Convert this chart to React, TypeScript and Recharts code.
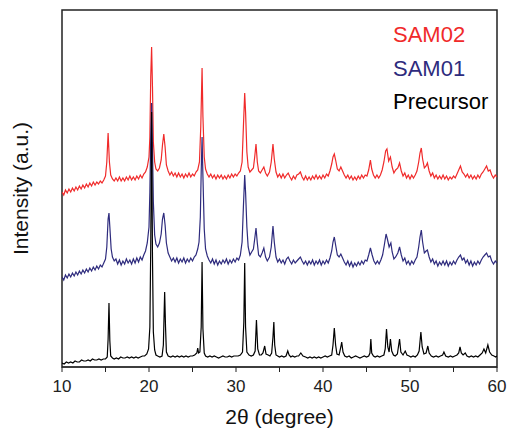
import React from "react";
import { LineChart, Line, XAxis, YAxis, ReferenceArea } from "recharts";

// 2θ (deg), intensity (a.u., offset stacked)
const precursor: [number, number][] = [
  [10.0, 4], [10.25, 3], [10.5, 5], [10.75, 4], [11.0, 5], [11.25, 4], [11.5, 6], [11.75, 5], [12.0, 5], [12.25, 7],
  [12.5, 6], [12.75, 6], [13.0, 7], [13.25, 6], [13.5, 8], [13.75, 7], [14.0, 7], [14.25, 8], [14.5, 7], [14.75, 8],
  [15.0, 8], [15.2, 10], [15.3, 28], [15.4, 64], [15.5, 26], [15.6, 11], [15.8, 9], [16.0, 8], [16.25, 9], [16.5, 8],
  [16.75, 10], [17.0, 9], [17.25, 9], [17.5, 10], [17.75, 9], [18.0, 10], [18.25, 9], [18.5, 10], [18.75, 9], [19.0, 10],
  [19.25, 11], [19.5, 11], [19.75, 13], [19.95, 18], [20.1, 40], [20.2, 120], [20.3, 255], [20.4, 110], [20.5, 35], [20.65, 17],
  [20.8, 12], [21.0, 11], [21.25, 10], [21.5, 11], [21.65, 22], [21.75, 58], [21.8, 75], [21.9, 40], [22.0, 15], [22.2, 11],
  [22.5, 10], [22.75, 11], [23.0, 10], [23.25, 11], [23.5, 10], [23.75, 11], [24.0, 10], [24.25, 11], [24.5, 10], [24.75, 11],
  [25.0, 11], [25.25, 12], [25.5, 14], [25.6, 19], [25.7, 14], [25.85, 15], [26.0, 40], [26.1, 105], [26.2, 38], [26.35, 14],
  [26.5, 11], [26.75, 10], [27.0, 11], [27.25, 10], [27.5, 11], [27.75, 10], [28.0, 9], [28.25, 10], [28.5, 11], [28.75, 10],
  [29.0, 10], [29.25, 11], [29.5, 10], [29.75, 11], [30.0, 11], [30.25, 11], [30.5, 12], [30.75, 15], [30.9, 45], [31.0, 104],
  [31.1, 40], [31.25, 15], [31.5, 12], [31.75, 11], [32.0, 12], [32.2, 16], [32.35, 47], [32.5, 18], [32.7, 12], [32.9, 12],
  [33.1, 14], [33.3, 21], [33.45, 13], [33.7, 12], [33.9, 11], [34.1, 14], [34.25, 30], [34.35, 45], [34.45, 22], [34.6, 12],
  [34.8, 11], [35.0, 10], [35.25, 11], [35.5, 10], [35.75, 11], [35.95, 16], [36.1, 12], [36.3, 10], [36.5, 11], [36.75, 10],
  [37.0, 11], [37.2, 11], [37.45, 14], [37.7, 11], [38.0, 10], [38.25, 9], [38.5, 10], [38.75, 9], [39.0, 10], [39.25, 9],
  [39.5, 10], [39.75, 9], [40.0, 10], [40.25, 11], [40.5, 10], [40.75, 11], [41.0, 12], [41.15, 22], [41.3, 39], [41.45, 22],
  [41.6, 13], [41.85, 12], [42.05, 20], [42.15, 25], [42.3, 15], [42.5, 11], [42.75, 10], [43.0, 11], [43.25, 9], [43.5, 10],
  [43.75, 11], [44.0, 10], [44.25, 9], [44.5, 10], [44.75, 11], [45.0, 10], [45.25, 11], [45.4, 14], [45.5, 28], [45.6, 14],
  [45.8, 11], [46.0, 10], [46.25, 11], [46.5, 10], [46.75, 11], [47.0, 12], [47.15, 18], [47.3, 38], [47.45, 20], [47.6, 15],
  [47.75, 28], [47.9, 16], [48.1, 12], [48.3, 11], [48.55, 13], [48.8, 28], [48.95, 15], [49.2, 12], [49.45, 16], [49.65, 12],
  [49.9, 11], [50.1, 10], [50.35, 11], [50.6, 10], [50.85, 12], [51.05, 16], [51.25, 35], [51.4, 20], [51.6, 13], [51.85, 14],
  [52.05, 21], [52.2, 14], [52.45, 11], [52.7, 10], [53.0, 11], [53.25, 10], [53.5, 11], [53.75, 12], [53.9, 15], [54.1, 11],
  [54.4, 10], [54.65, 11], [54.9, 10], [55.15, 11], [55.4, 12], [55.6, 14], [55.75, 20], [55.9, 14], [56.1, 12], [56.35, 14],
  [56.55, 11], [56.8, 10], [57.05, 11], [57.3, 10], [57.55, 11], [57.8, 10], [58.05, 12], [58.3, 14], [58.5, 18], [58.7, 14],
  [58.95, 22], [59.15, 15], [59.4, 12], [59.65, 11], [59.85, 10], [60.0, 11],
];

const sam01: [number, number][] = [
  [10.0, 90], [10.2, 87], [10.4, 92], [10.6, 89], [10.8, 93], [11.0, 90], [11.2, 94], [11.4, 91], [11.6, 95], [11.8, 92],
  [12.0, 96], [12.2, 93], [12.4, 97], [12.6, 94], [12.8, 98], [13.0, 95], [13.2, 99], [13.4, 96], [13.6, 100], [13.8, 97],
  [14.0, 101], [14.2, 98], [14.4, 102], [14.6, 100], [14.8, 104], [15.0, 108], [15.15, 120], [15.3, 148], [15.4, 154], [15.5, 140],
  [15.65, 118], [15.8, 110], [16.0, 106], [16.2, 108], [16.4, 103], [16.6, 107], [16.8, 102], [17.0, 106], [17.2, 103], [17.4, 108],
  [17.6, 104], [17.8, 107], [18.0, 103], [18.2, 108], [18.4, 104], [18.6, 109], [18.8, 105], [19.0, 110], [19.2, 107], [19.4, 112],
  [19.6, 116], [19.8, 124], [20.0, 140], [20.1, 175], [20.2, 230], [20.3, 264], [20.4, 220], [20.5, 165], [20.65, 132], [20.8, 123],
  [21.0, 120], [21.2, 124], [21.4, 133], [21.55, 148], [21.7, 154], [21.85, 142], [22.0, 124], [22.2, 114], [22.4, 110], [22.6, 106],
  [22.8, 109], [23.0, 105], [23.2, 109], [23.4, 104], [23.6, 108], [23.8, 105], [24.0, 109], [24.2, 104], [24.4, 108], [24.6, 105],
  [24.8, 109], [25.0, 106], [25.2, 110], [25.4, 112], [25.6, 118], [25.75, 125], [25.9, 150], [26.0, 195], [26.1, 230], [26.2, 190],
  [26.35, 138], [26.5, 118], [26.7, 111], [26.9, 107], [27.1, 104], [27.3, 108], [27.5, 103], [27.7, 107], [27.9, 102], [28.1, 106],
  [28.3, 103], [28.5, 107], [28.7, 104], [28.9, 108], [29.1, 103], [29.3, 107], [29.5, 104], [29.7, 108], [29.9, 105], [30.1, 109],
  [30.3, 107], [30.5, 112], [30.7, 125], [30.85, 160], [31.0, 192], [31.1, 175], [31.25, 140], [31.4, 120], [31.6, 112], [31.8, 115],
  [32.0, 118], [32.15, 128], [32.3, 139], [32.45, 124], [32.6, 112], [32.8, 110], [33.0, 114], [33.2, 119], [33.4, 110], [33.6, 106],
  [33.85, 110], [34.05, 120], [34.25, 141], [34.4, 125], [34.6, 110], [34.8, 105], [35.0, 108], [35.2, 104], [35.4, 107], [35.6, 103],
  [35.8, 108], [36.0, 110], [36.2, 106], [36.4, 103], [36.6, 107], [36.8, 104], [37.0, 106], [37.2, 108], [37.4, 110], [37.6, 106],
  [37.8, 103], [38.0, 106], [38.2, 102], [38.4, 106], [38.6, 103], [38.8, 107], [39.0, 102], [39.2, 106], [39.4, 103], [39.6, 107],
  [39.8, 102], [40.0, 106], [40.2, 103], [40.4, 107], [40.6, 104], [40.8, 109], [41.0, 116], [41.15, 125], [41.3, 130], [41.45, 122],
  [41.65, 112], [41.85, 110], [42.05, 113], [42.25, 109], [42.45, 105], [42.65, 102], [42.85, 106], [43.05, 101], [43.25, 105], [43.45, 100],
  [43.65, 104], [43.85, 101], [44.05, 105], [44.25, 102], [44.45, 106], [44.65, 103], [44.85, 107], [45.05, 106], [45.25, 112], [45.45, 119],
  [45.65, 112], [45.85, 106], [46.05, 103], [46.25, 106], [46.45, 103], [46.65, 107], [46.85, 112], [47.05, 122], [47.25, 133], [47.4, 128],
  [47.6, 120], [47.8, 124], [47.95, 115], [48.15, 108], [48.35, 110], [48.6, 114], [48.8, 120], [49.0, 112], [49.2, 106], [49.4, 109],
  [49.6, 103], [49.8, 106], [50.0, 102], [50.2, 106], [50.4, 103], [50.6, 107], [50.8, 110], [51.0, 120], [51.15, 130], [51.3, 137],
  [51.45, 125], [51.65, 114], [51.85, 116], [52.0, 117], [52.2, 110], [52.4, 105], [52.6, 108], [52.8, 103], [53.0, 106], [53.2, 101],
  [53.4, 105], [53.6, 102], [53.8, 106], [54.0, 102], [54.2, 106], [54.4, 101], [54.6, 105], [54.8, 102], [55.0, 106], [55.2, 103],
  [55.4, 107], [55.6, 110], [55.8, 112], [56.0, 107], [56.2, 109], [56.4, 104], [56.6, 107], [56.8, 102], [57.0, 106], [57.2, 101],
  [57.4, 105], [57.6, 102], [57.8, 106], [58.0, 103], [58.2, 107], [58.4, 110], [58.6, 112], [58.8, 114], [59.0, 110], [59.2, 111],
  [59.4, 106], [59.6, 103], [59.8, 106], [60.0, 104],
];

const sam02: [number, number][] = [
  [10.0, 175], [10.2, 172], [10.4, 177], [10.6, 174], [10.8, 178], [11.0, 175], [11.2, 179], [11.4, 176], [11.6, 180], [11.8, 177],
  [12.0, 181], [12.2, 178], [12.4, 182], [12.6, 179], [12.8, 183], [13.0, 180], [13.2, 184], [13.4, 181], [13.6, 185], [13.8, 182],
  [14.0, 185], [14.2, 183], [14.4, 186], [14.6, 184], [14.8, 187], [15.0, 191], [15.15, 205], [15.3, 234], [15.45, 205], [15.6, 192],
  [15.8, 188], [16.0, 186], [16.2, 189], [16.4, 186], [16.6, 190], [16.8, 186], [17.0, 189], [17.2, 186], [17.4, 190], [17.6, 187],
  [17.8, 191], [18.0, 187], [18.2, 190], [18.4, 187], [18.6, 191], [18.8, 188], [19.0, 192], [19.2, 189], [19.4, 193], [19.6, 195],
  [19.8, 200], [20.0, 210], [20.1, 230], [20.2, 290], [20.3, 320], [20.4, 280], [20.5, 225], [20.65, 205], [20.8, 198], [21.0, 196],
  [21.2, 199], [21.4, 207], [21.55, 222], [21.7, 233], [21.85, 220], [22.0, 202], [22.2, 196], [22.4, 192], [22.6, 195], [22.8, 191],
  [23.0, 194], [23.2, 190], [23.4, 194], [23.6, 190], [23.8, 193], [24.0, 189], [24.2, 193], [24.4, 190], [24.6, 194], [24.8, 190],
  [25.0, 193], [25.2, 191], [25.4, 195], [25.6, 197], [25.8, 205], [25.95, 240], [26.1, 299], [26.2, 250], [26.35, 210], [26.5, 198],
  [26.7, 193], [26.9, 190], [27.1, 193], [27.3, 189], [27.5, 192], [27.7, 188], [27.9, 192], [28.1, 189], [28.3, 192], [28.5, 188],
  [28.7, 191], [28.9, 188], [29.1, 192], [29.3, 189], [29.5, 193], [29.7, 190], [29.9, 193], [30.1, 191], [30.3, 194], [30.5, 196],
  [30.7, 205], [30.85, 240], [31.0, 274], [31.1, 255], [31.25, 215], [31.4, 200], [31.6, 195], [31.8, 197], [32.0, 199], [32.15, 210],
  [32.3, 223], [32.45, 205], [32.6, 196], [32.8, 194], [33.0, 197], [33.2, 200], [33.4, 194], [33.6, 191], [33.85, 195], [34.05, 205],
  [34.25, 223], [34.4, 208], [34.6, 195], [34.8, 190], [35.0, 193], [35.2, 189], [35.4, 193], [35.6, 189], [35.8, 192], [36.0, 194],
  [36.2, 190], [36.4, 187], [36.6, 191], [36.8, 188], [37.0, 192], [37.2, 193], [37.4, 195], [37.6, 190], [37.8, 187], [38.0, 191],
  [38.2, 187], [38.4, 190], [38.6, 187], [38.8, 191], [39.0, 188], [39.2, 192], [39.4, 188], [39.6, 191], [39.8, 188], [40.0, 192],
  [40.2, 189], [40.4, 193], [40.6, 191], [40.8, 196], [41.0, 203], [41.15, 210], [41.3, 213], [41.45, 207], [41.65, 198], [41.85, 196],
  [42.05, 200], [42.25, 196], [42.45, 192], [42.65, 189], [42.85, 192], [43.05, 188], [43.25, 191], [43.45, 187], [43.65, 190], [43.85, 187],
  [44.05, 191], [44.25, 188], [44.45, 192], [44.65, 189], [44.85, 192], [45.05, 191], [45.25, 197], [45.45, 207], [45.6, 198], [45.8, 192],
  [46.0, 189], [46.2, 192], [46.4, 189], [46.6, 192], [46.8, 197], [47.0, 205], [47.2, 216], [47.35, 218], [47.55, 206], [47.75, 210],
  [47.95, 200], [48.15, 194], [48.35, 197], [48.6, 199], [48.8, 204], [49.0, 196], [49.2, 191], [49.4, 194], [49.6, 189], [49.8, 192],
  [50.0, 188], [50.2, 192], [50.4, 189], [50.6, 192], [50.8, 196], [51.0, 205], [51.15, 214], [51.3, 219], [51.45, 208], [51.65, 199],
  [51.85, 201], [52.0, 204], [52.2, 196], [52.4, 191], [52.6, 194], [52.8, 189], [53.0, 192], [53.2, 188], [53.4, 191], [53.6, 188],
  [53.8, 192], [54.0, 188], [54.2, 191], [54.4, 187], [54.6, 190], [54.8, 188], [55.0, 191], [55.2, 189], [55.4, 193], [55.6, 197],
  [55.8, 201], [56.0, 195], [56.2, 193], [56.4, 190], [56.6, 193], [56.8, 189], [57.0, 192], [57.2, 188], [57.4, 191], [57.6, 188],
  [57.8, 192], [58.0, 189], [58.2, 193], [58.4, 195], [58.6, 198], [58.8, 201], [59.0, 196], [59.2, 197], [59.4, 192], [59.6, 189],
  [59.8, 192], [60.0, 190],
];

const xTicks = [10, 15, 20, 25, 30, 35, 40, 45, 50, 55, 60];
const xLabels = [10, 20, 30, 40, 50, 60];

const legendNames = ["SAM02", "SAM01", "Precursor"];
const colors = ["#f02a2a", "#2e2b7d", "#000000"];

const toRows = (pts: [number, number][]) => pts.map(([x, y]) => ({ x, y }));

const font = "'Liberation Sans', Arial, sans-serif";

export default function App() {
  const series = [sam02, sam01, precursor];
  return (
    <div style={{ position: "absolute", left: 0, top: 0, background: "#fff" }}>
      <LineChart width={508} height={429} margin={{ top: 10, right: 11, bottom: 32, left: 62 }}>
        <XAxis
          dataKey="x"
          type="number"
          domain={[10, 60]}
          ticks={xTicks}
          allowDataOverflow
          height={30}
          tickSize={5}
          tickMargin={8}
          stroke="#222"
          tick={{ fill: "#222", fontSize: 17, fontFamily: font }}
          tickFormatter={(v) => (xLabels.includes(v) ? String(v) : "")}
        />
        <YAxis type="number" domain={[0, 357]} hide allowDataOverflow />
        <ReferenceArea
          x1={10}
          x2={60}
          y1={0}
          y2={357}
          fill="none"
          stroke="#222"
          strokeWidth={1.5}
          ifOverflow="visible"
        />
        {series.map((pts, i) => (
          <Line
            key={legendNames[i]}
            data={toRows(pts)}
            dataKey="y"
            type="linear"
            stroke={colors[i]}
            strokeWidth={1.2}
            dot={false}
            activeDot={false}
            isAnimationActive={false}
          />
        ))}
        {legendNames.map((name, i) => (
          <text key={name} x={393} y={42 + i * 33.5} fill={colors[i]} fontSize={22} fontFamily={font}>
            {name}
          </text>
        ))}
        <text x={279.5} y={424} textAnchor="middle" fontSize={21} fontFamily={font} fill="#111">
          2θ (degree)
        </text>
        <text
          x={28}
          y={188.5}
          textAnchor="middle"
          fontSize={21}
          fontFamily={font}
          fill="#111"
          transform="rotate(-90 28 188.5)"
        >
          Intensity (a.u.)
        </text>
      </LineChart>
    </div>
  );
}
